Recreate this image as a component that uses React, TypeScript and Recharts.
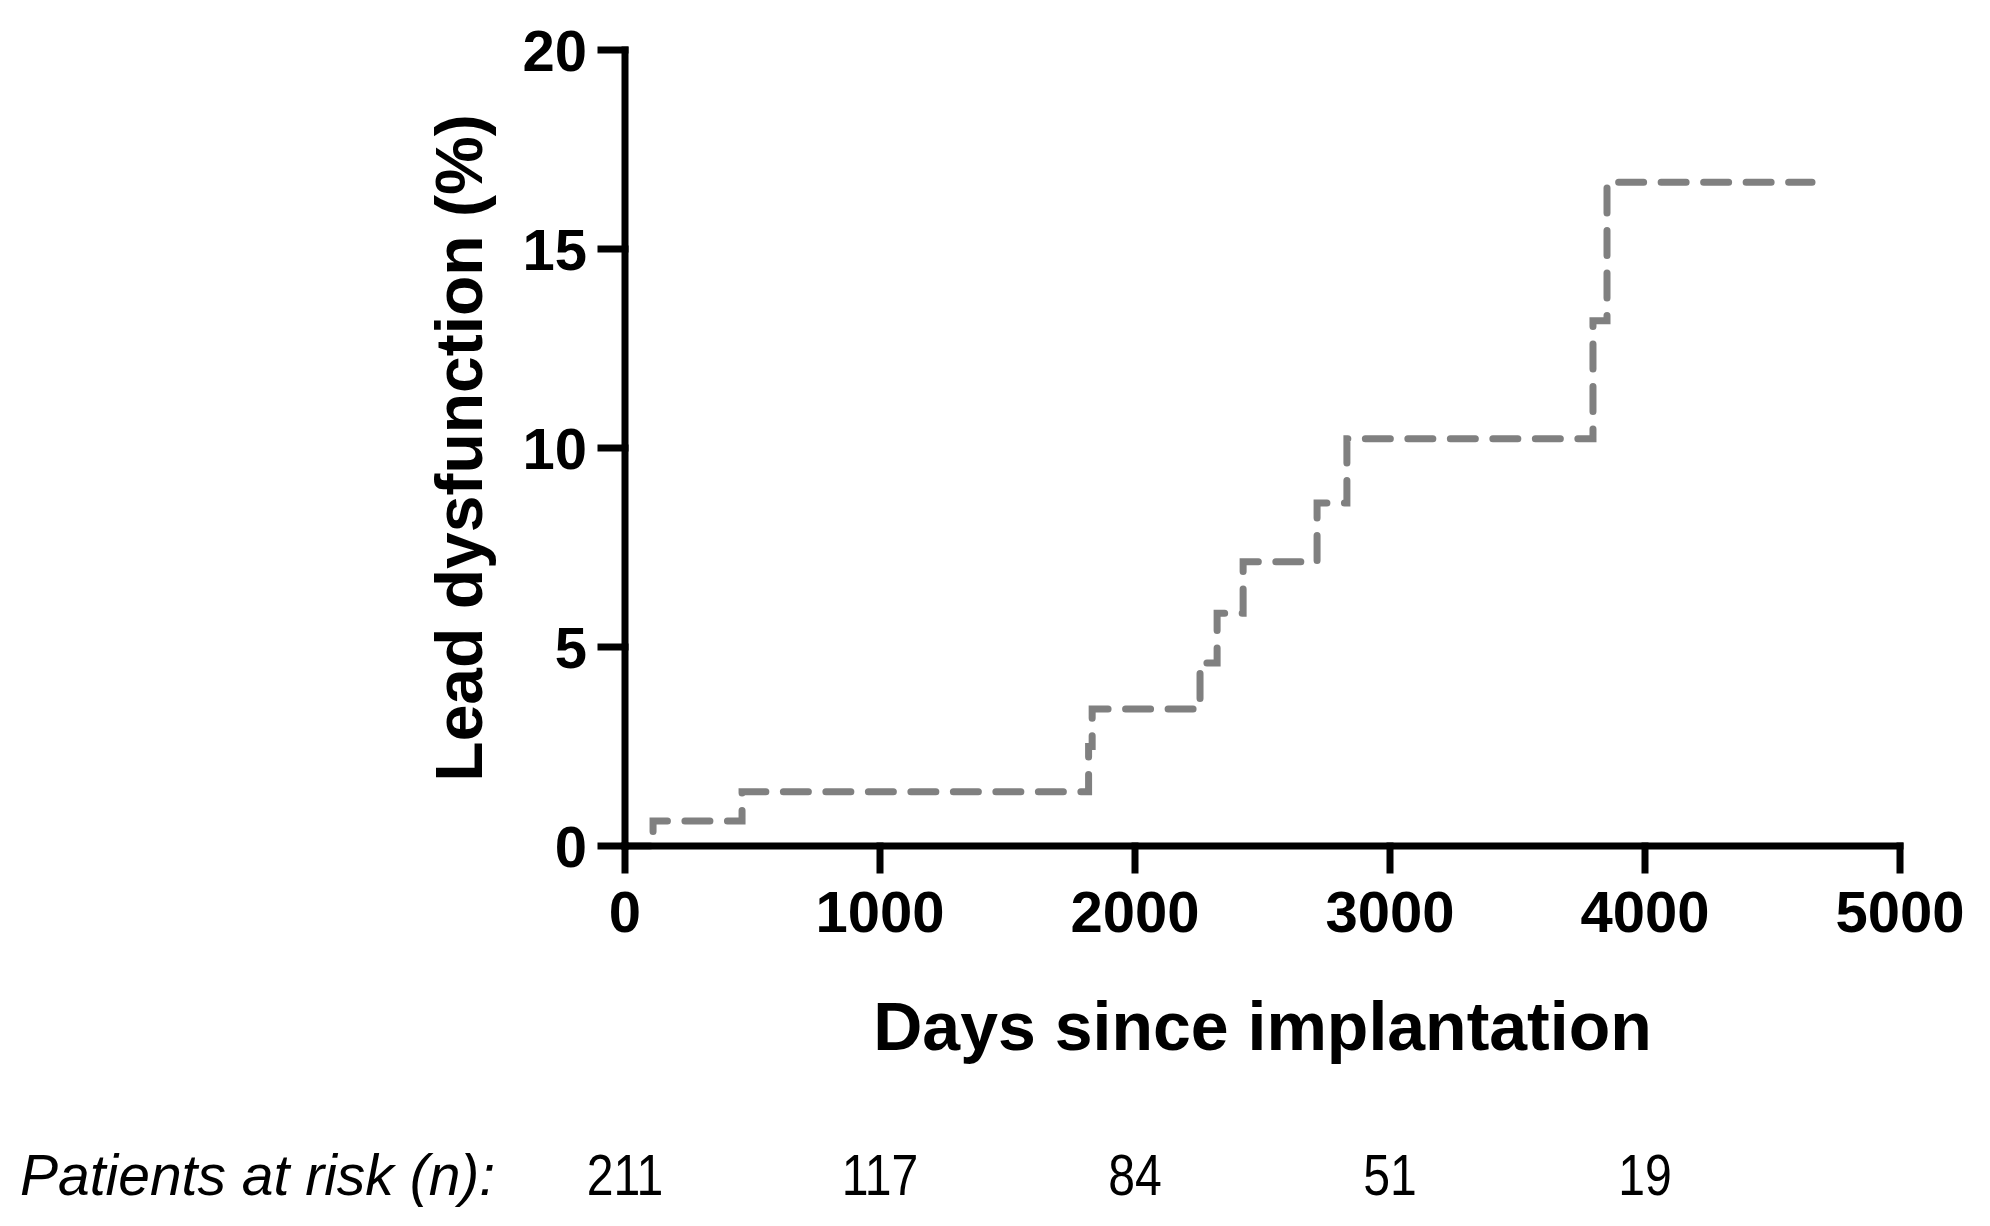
import React from "react"
import { LineChart, Line, XAxis, YAxis, Label } from "recharts"

// Kaplan-Meier style cumulative incidence
const days = [0, 110, 459, 1818, 1832, 2255, 2322, 2424, 2714, 2831, 3796, 3851, 4655]
const dysfunction = [0, 0.63, 1.36, 2.5, 3.44, 4.6, 5.85, 7.14, 8.62, 10.23, 13.2, 16.68, 16.68]

const xTicks = [0, 1000, 2000, 3000, 4000, 5000]
const yTicks = [0, 5, 10, 15, 20]

const riskDays = [0, 1000, 2000, 3000, 4000]
const patientsAtRisk = [211, 117, 84, 51, 19]

const data = days.map((d, i) => ({ day: d, pct: dysfunction[i] }))

const FONT = "'Liberation Sans', Arial, Helvetica, sans-serif"

const axisStyle = { stroke: "#000", strokeWidth: 7, strokeLinecap: "square" as const }

function XTick({ x, y, payload }: any) {
  const idx = riskDays.indexOf(payload.value)
  return (
    <g>
      <text x={x} y={y + 62} textAnchor="middle" fontFamily={FONT} fontWeight="bold" fontSize={58} fill="#000">
        {payload.value}
      </text>
      {idx >= 0 && (
        // narrow-looking numbers, as in the figure
        <text x={0} y={y + 325} transform={`translate(${x}, 0) scale(0.83, 1)`} textAnchor="middle"
          fontFamily={FONT} fontSize={58} fill="#000">
          {patientsAtRisk[idx]}
        </text>
      )}
    </g>
  )
}

function YTick({ x, y, payload }: any) {
  return (
    <text x={x - 14} y={y + 21} textAnchor="end" fontFamily={FONT} fontWeight="bold" fontSize={58} fill="#000">
      {payload.value}
    </text>
  )
}

export default function App() {
  return (
    <div style={{ position: "absolute", left: 0, top: 0, background: "#fff" }}>
      <LineChart width={1990} height={1226} data={data} margin={{ top: 50, right: 90, bottom: 20, left: 525 }}>
        <XAxis
          dataKey="day"
          type="number"
          domain={[0, 5000]}
          ticks={xTicks}
          height={360}
          tickSize={24}
          tickMargin={0}
          axisLine={axisStyle}
          tickLine={axisStyle}
          tick={<XTick />}
          interval={0}
        >
          <Label
            content={({ viewBox }: any) => (
              <text x={viewBox.x + viewBox.width / 2} y={viewBox.y + 204} textAnchor="middle"
                fontFamily={FONT} fontWeight="bold" fontSize={68} fill="#000">
                Days since implantation
              </text>
            )}
          />
          <Label
            content={({ viewBox }: any) => (
              <text x={20} y={viewBox.y + 349} fontFamily={FONT} fontStyle="italic" fontSize={57} fill="#000">
                Patients at risk (n):
              </text>
            )}
          />
        </XAxis>
        <YAxis
          type="number"
          domain={[0, 20]}
          ticks={yTicks}
          width={100}
          tickSize={24}
          tickMargin={0}
          axisLine={axisStyle}
          tickLine={axisStyle}
          tick={<YTick />}
          interval={0}
        >
          <Label
            content={({ viewBox }: any) => {
              const cx = 482
              const cy = viewBox.y + viewBox.height / 2
              return (
                <text x={cx} y={cy} transform={`rotate(-90, ${cx}, ${cy})`} textAnchor="middle"
                  fontFamily={FONT} fontWeight="bold" fontSize={66} fill="#000">
                  Lead dysfunction (%)
                </text>
              )
            }}
          />
        </YAxis>
        <Line
          type="stepAfter"
          dataKey="pct"
          stroke="#808080"
          strokeWidth={7}
          strokeDasharray="25 17.5"
          strokeLinecap="round"
          dot={false}
          activeDot={false}
          isAnimationActive={false}
        />
      </LineChart>
    </div>
  )
}
